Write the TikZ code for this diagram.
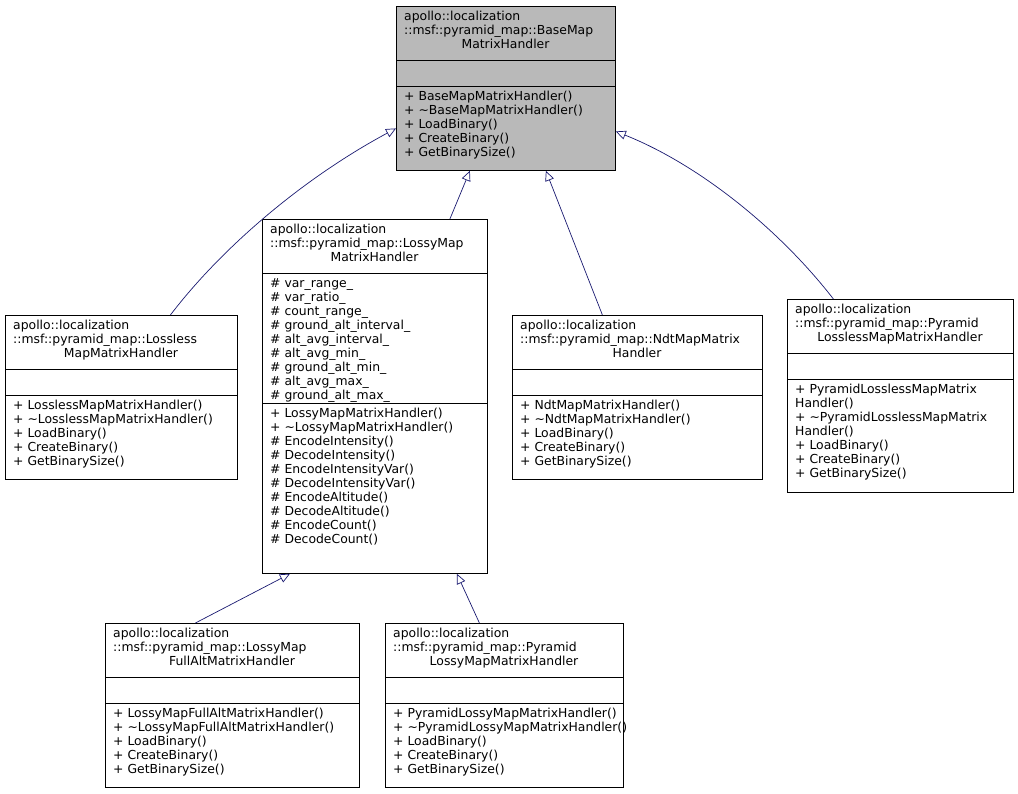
\documentclass[tikz,border=0pt]{standalone}
\usepackage{fontspec}
\setmainfont{DejaVu Sans}
\usetikzlibrary{arrows.meta}
\begin{document}
\begin{tikzpicture}[x=1pt,y=-1pt,
  box/.style={draw=black,fill=white,anchor=north west,inner sep=0,line width=0.8pt},
  gbox/.style={box,fill=gray!55},
  txt/.style={anchor=north west,inner sep=0,font=\fontsize{12.4pt}{14pt}\selectfont,align=left},
  ctxt/.style={anchor=north,inner sep=0,font=\fontsize{12.4pt}{14pt}\selectfont},
  inh/.style={draw={rgb,255:red,25;green,25;blue,112},line width=0.7pt,-{Triangle[open,length=10pt,width=9pt]}}]
\useasboundingbox (0,0) rectangle (1018,793);
\newcommand\cbox[6][box]{\node[#1,minimum width=#5pt,minimum height=#6pt] (#2) at (#3,#4) {};}
\newcommand\sep[3]{\draw[line width=0.8pt] (#1,#3) -- ++(#2,0);}
% Base
\cbox[gbox]{base}{396}{6}{219}{164}
\sep{396}{219}{60}\sep{396}{219}{86}
\node[txt] at (404,11) {apollo::localization\\::msf::pyramid\_map::BaseMap};
\node[ctxt] at (505.5,39) {MatrixHandler};
\node[txt] at (404,91) {+ BaseMapMatrixHandler()\\+ \char`~BaseMapMatrixHandler()\\+ LoadBinary()\\+ CreateBinary()\\+ GetBinarySize()};
% Lossless
\cbox{ll}{5}{315}{232}{164}
\sep{5}{232}{369}\sep{5}{232}{395}
\node[txt] at (13,320) {apollo::localization\\::msf::pyramid\_map::Lossless};
\node[ctxt] at (121,348) {MapMatrixHandler};
\node[txt] at (13,400) {+ LosslessMapMatrixHandler()\\+ \char`~LosslessMapMatrixHandler()\\+ LoadBinary()\\+ CreateBinary()\\+ GetBinarySize()};
% Lossy
\cbox{ly}{262}{219}{225}{354}
\sep{262}{225}{273}\sep{262}{225}{403}
\node[txt] at (270,224) {apollo::localization\\::msf::pyramid\_map::LossyMap};
\node[ctxt] at (374.5,252) {MatrixHandler};
\node[txt] at (270,278) {\# var\_range\_\\\# var\_ratio\_\\\# count\_range\_\\\# ground\_alt\_interval\_\\\# alt\_avg\_interval\_\\\# alt\_avg\_min\_\\\# ground\_alt\_min\_\\\# alt\_avg\_max\_\\\# ground\_alt\_max\_};
\node[txt] at (270,408) {+ LossyMapMatrixHandler()\\+ \char`~LossyMapMatrixHandler()\\\# EncodeIntensity()\\\# DecodeIntensity()\\\# EncodeIntensityVar()\\\# DecodeIntensityVar()\\\# EncodeAltitude()\\\# DecodeAltitude()\\\# EncodeCount()\\\# DecodeCount()};
% Ndt
\cbox{ndt}{512}{315}{250}{164}
\sep{512}{250}{369}\sep{512}{250}{395}
\node[txt] at (520,320) {apollo::localization\\::msf::pyramid\_map::NdtMapMatrix};
\node[ctxt] at (637,348) {Handler};
\node[txt] at (520,400) {+ NdtMapMatrixHandler()\\+ \char`~NdtMapMatrixHandler()\\+ LoadBinary()\\+ CreateBinary()\\+ GetBinarySize()};
% Pyramid lossless
\cbox{pll}{787}{299}{226}{193}
\sep{787}{226}{353}\sep{787}{226}{379}
\node[txt] at (795,304) {apollo::localization\\::msf::pyramid\_map::Pyramid};
\node[ctxt] at (900,332) {LosslessMapMatrixHandler};
\node[txt] at (795,384) {+ PyramidLosslessMapMatrix\\Handler()\\+ \char`~PyramidLosslessMapMatrix\\Handler()\\+ LoadBinary()\\+ CreateBinary()\\+ GetBinarySize()};
% FullAlt
\cbox{fa}{105}{623}{254}{164}
\sep{105}{254}{677}\sep{105}{254}{703}
\node[txt] at (113,628) {apollo::localization\\::msf::pyramid\_map::LossyMap};
\node[ctxt] at (232,656) {FullAltMatrixHandler};
\node[txt] at (113,708) {+ LossyMapFullAltMatrixHandler()\\+ \char`~LossyMapFullAltMatrixHandler()\\+ LoadBinary()\\+ CreateBinary()\\+ GetBinarySize()};
% Pyramid lossy
\cbox{pl}{385}{623}{238}{164}
\sep{385}{238}{677}\sep{385}{238}{703}
\node[txt] at (393,628) {apollo::localization\\::msf::pyramid\_map::Pyramid};
\node[ctxt] at (504,656) {LossyMapMatrixHandler};
\node[txt] at (393,708) {+ PyramidLossyMapMatrixHandler()\\+ \char`~PyramidLossyMapMatrixHandler()\\+ LoadBinary()\\+ CreateBinary()\\+ GetBinarySize()};
% connectors
\draw[inh] ([xshift=49pt]ll.north) .. controls (220,250) and (300,180) .. ([yshift=-40pt]base.west);
\draw[inh] ([xshift=75pt]ly.north) -- ([xshift=-36pt]base.south);
\draw[inh] ([xshift=-35pt]ndt.north) -- ([xshift=40pt]base.south);
\draw[inh] ([xshift=-67pt]pll.north) .. controls (780,230) and (700,165) .. ([yshift=-43pt]base.east);
\draw[inh] ([xshift=-37pt]fa.north) -- ([xshift=-85pt]ly.south);
\draw[inh] ([xshift=-25pt]pl.north) -- ([xshift=82pt]ly.south);
\end{tikzpicture}
\end{document}
